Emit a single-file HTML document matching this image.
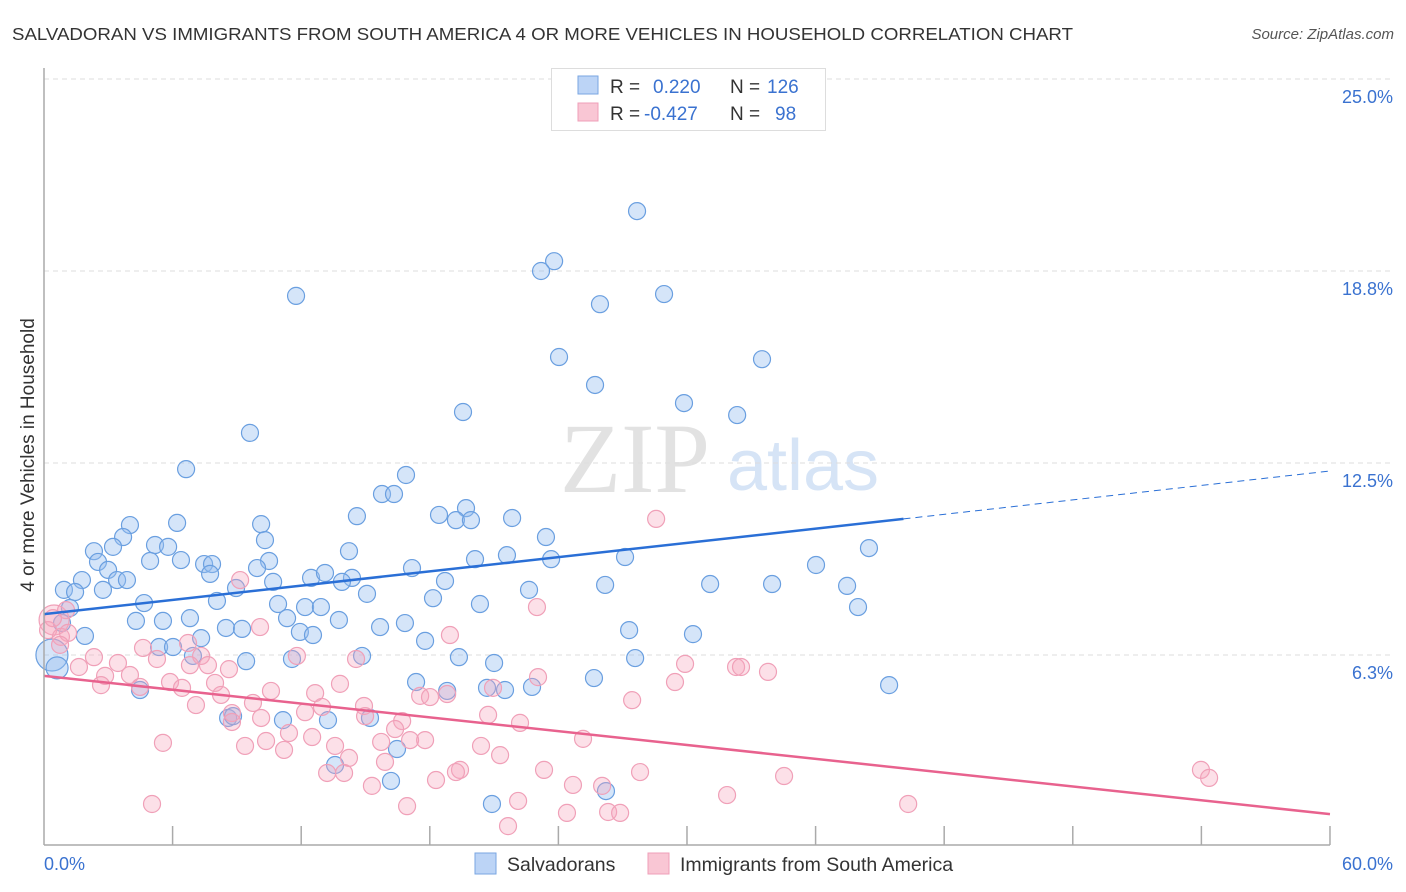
<!DOCTYPE html>
<html><head><meta charset="utf-8">
<style>
body{margin:0;background:#fff;font-family:"Liberation Sans",sans-serif;}
#wrap{position:relative;width:1406px;height:892px;overflow:hidden;}
</style></head>
<body>
<div id="wrap">
<svg id="svg" width="1406" height="892" xmlns="http://www.w3.org/2000/svg">
<text x="12" y="40" font-size="17.5" textLength="1061" lengthAdjust="spacingAndGlyphs" fill="#333">SALVADORAN VS IMMIGRANTS FROM SOUTH AMERICA 4 OR MORE VEHICLES IN HOUSEHOLD CORRELATION CHART</text>
<text x="1394" y="39" font-size="15" fill="#555" font-style="italic" text-anchor="end">Source: ZipAtlas.com</text>
<text x="635" y="492" font-size="100" fill="#e2e2e2" font-family="Liberation Serif,serif" text-anchor="middle">ZIP</text>
<text x="803" y="490" font-size="72" fill="#d6e4f6" text-anchor="middle">atlas</text>
<text transform="translate(34,455) rotate(-90)" font-size="19" fill="#333" text-anchor="middle">4 or more Vehicles in Household</text>
<g id="grid"></g><g id="pts"></g><g id="trend"></g>
<line x1="44" y1="68" x2="44" y2="845" stroke="#aaa" stroke-width="1.5"/>
<line x1="44" y1="845" x2="1330" y2="845" stroke="#aaa" stroke-width="1.5"/>
<g id="xt"></g>
<text x="44" y="870" font-size="18" fill="#3a72d0">0.0%</text>
<text x="1393" y="870" font-size="18" fill="#3a72d0" text-anchor="end">60.0%</text>
<g>
<rect x="551.5" y="68.5" width="274" height="62" fill="#fff" stroke="#ddd"/>
<rect x="578" y="76" width="20" height="18" fill="#bcd4f6" stroke="#7aa6e2"/>
<rect x="578" y="103" width="20" height="18" fill="#f9c6d4" stroke="#ef9fb8"/>
<text x="610" y="93" font-size="19" fill="#333">R = </text><text x="653" y="93" font-size="19" fill="#3a72d0">0.220</text>
<text x="730" y="93" font-size="19" fill="#333">N = </text><text x="767" y="93" font-size="19" fill="#3a72d0">126</text>
<text x="610" y="120" font-size="19" fill="#333">R = </text><text x="644" y="120" font-size="19" fill="#3a72d0">-0.427</text>
<text x="730" y="120" font-size="19" fill="#333">N = </text><text x="775" y="120" font-size="19" fill="#3a72d0">98</text>
</g>
<g>
<rect x="475" y="853" width="21" height="21" fill="#bcd4f6" stroke="#7aa6e2"/>
<text x="507" y="871" font-size="19.5" fill="#333">Salvadorans</text>
<rect x="648" y="853" width="21" height="21" fill="#f9c6d4" stroke="#ef9fb8"/>
<text x="680" y="871" font-size="19.5" fill="#333">Immigrants from South America</text>
</g>
</svg>
</div>
<script>
const yTicks=[25,18.75,12.5,6.25];
const yTickLabels=["25.0%","18.8%","12.5%","6.3%"];
const xTicks=[6,12,18,24,30,36,42,48,54,60];
const blueX=[27.67,23.80,23.19,11.76,28.93,25.94,24.03,33.50,25.71,29.86,32.34,19.55,9.61,6.63,16.89,15.77,16.33,19.69,18.43,19.22,19.92,21.84,14.60,6.21,4.01,10.13,23.42,10.31,3.69,3.22,2.33,5.18,5.79,14.23,20.11,21.60,23.66,27.11,38.49,36.02,4.95,6.39,7.47,7.84,7.75,10.50,2.52,2.99,1.77,3.41,3.87,12.46,13.11,14.37,13.90,17.17,18.71,9.94,10.69,8.96,26.18,31.08,33.97,37.47,0.93,1.45,2.75,22.63,15.07,8.07,4.67,10.92,12.18,12.92,18.15,20.34,37.98,1.21,4.29,5.55,6.81,11.34,13.76,15.68,16.84,8.49,9.24,0.84,11.94,12.55,1.91,7.33,27.30,30.28,17.78,5.37,6.02,19.36,27.58,0.37,6.95,9.43,11.57,14.84,21.00,0.61,17.36,18.81,20.67,21.51,22.77,25.66,39.43,4.48,8.59,8.82,11.15,13.25,15.21,16.47,13.58,16.19,26.22,20.90];
const blueY=[20.70,19.07,18.75,17.94,18.00,17.67,15.95,15.88,15.04,14.45,14.06,14.16,13.48,12.30,12.11,11.49,11.49,11.03,10.81,10.64,10.64,10.71,10.77,10.55,10.48,10.51,10.09,9.99,10.09,9.77,9.63,9.83,9.77,9.63,9.37,9.50,9.37,9.44,9.73,9.18,9.31,9.34,9.21,9.21,8.89,9.31,9.28,9.02,8.69,8.69,8.69,8.76,8.92,8.76,8.63,9.08,8.66,9.08,8.63,8.43,8.53,8.56,8.56,8.50,8.37,8.30,8.37,8.37,8.24,8.01,7.94,7.91,7.81,7.81,8.10,7.91,7.81,7.78,7.36,7.36,7.45,7.45,7.39,7.16,7.29,7.13,7.10,7.29,7.00,6.90,6.87,6.80,7.06,6.93,6.71,6.51,6.51,6.18,6.15,6.25,6.22,6.05,6.12,6.22,5.99,5.83,5.37,5.08,5.18,5.11,5.21,5.50,5.27,5.11,4.20,4.26,4.13,4.13,4.20,3.19,2.67,2.15,1.82,1.40];
const pinkX=[28.56,9.15,23.00,18.94,0.47,1.03,0.19,0.79,1.12,0.42,4.62,6.72,7.33,2.33,3.45,5.27,6.81,7.65,11.80,14.56,29.91,32.29,32.52,33.78,1.63,2.85,4.01,2.66,4.48,5.88,6.44,7.98,8.63,10.08,29.44,23.05,12.65,10.59,13.81,17.55,18.01,18.81,20.95,27.44,7.09,8.26,9.75,14.93,10.13,12.18,12.97,8.77,14.98,8.77,20.72,22.21,16.71,11.43,12.51,16.38,17.78,5.55,9.38,10.36,11.20,13.58,14.23,15.73,17.08,20.39,21.28,25.15,13.21,14.00,15.91,19.41,19.22,23.33,27.81,34.53,53.98,54.36,15.30,18.29,24.68,26.04,31.87,5.04,16.94,22.12,24.40,26.32,26.88,40.32,21.65,0.75];
const pinkY=[10.68,8.69,7.81,6.90,7.39,7.71,7.06,6.84,6.97,7.45,6.48,6.64,6.22,6.18,5.99,6.12,5.92,5.92,6.22,6.12,5.96,5.86,5.86,5.70,5.86,5.57,5.60,5.27,5.21,5.37,5.18,5.34,5.79,7.16,5.37,5.53,5.01,5.08,5.31,4.92,4.88,4.98,5.18,4.78,4.62,4.95,4.69,4.59,4.20,4.39,4.56,4.36,4.26,4.07,4.30,4.04,4.10,3.71,3.58,3.84,3.48,3.39,3.29,3.45,3.16,3.29,2.90,3.42,3.48,3.29,2.99,3.52,2.41,2.41,2.77,2.51,2.44,2.51,2.44,2.31,2.51,2.25,1.99,2.18,2.02,1.99,1.69,1.40,1.33,1.50,1.11,1.14,1.11,1.40,0.68,6.58];
const blueTrend=[7.58,10.68,12.24]; const blueTrendX=[0,40.1,60];
const pinkTrend=[5.57,1.07]; const pinkTrendX=[0,60];
const NS="http://www.w3.org/2000/svg";
const sx=v=>44+v*21.433, sy=v=>847-v*30.72;
function mk(tag,attrs,parent){const e=document.createElementNS(NS,tag);for(const k in attrs)e.setAttribute(k,attrs[k]);parent.appendChild(e);return e;}
const grid=document.getElementById('grid');
yTicks.forEach((t,i)=>{
 const l=mk('line',{x1:44,x2:1394,y1:sy(t),y2:sy(t),stroke:'#ddd','stroke-dasharray':'5,4'},grid);
 
 
 const tx=mk('text',{x:1393,y:sy(t)+24,'font-size':18,fill:'#3a72d0','text-anchor':'end'},grid);
 tx.textContent=yTickLabels[i];
 
 
});
const xt=document.getElementById('xt');
xTicks.forEach(t=>{
 const l=mk('line',{x1:sx(t),x2:sx(t),y1:826,y2:845,stroke:'#aaa','stroke-width':1.5},xt);
 
 
});
const pts=document.getElementById('pts');
blueX.forEach((x,i)=>{
 const r=(i===99)?16:(i===105?11:8.5);
 const c=mk('circle',{cx:sx(x),cy:sy(blueY[i]),r:r,fill:'rgba(150,190,240,0.4)',stroke:'#6a9fe0','stroke-width':1.2},pts);
 
 
});
pinkX.forEach((x,i)=>{
 const r=(i===4)?15:8.5;
 const c=mk('circle',{cx:sx(x),cy:sy(pinkY[i]),r:r,fill:'rgba(245,165,190,0.35)',stroke:'#f0a0b8','stroke-width':1.2},pts);
 
 
});
const tr=document.getElementById('trend');
const b1=mk('line',{x1:sx(blueTrendX[0]),y1:sy(blueTrend[0]),x2:sx(blueTrendX[1]),y2:sy(blueTrend[1]),stroke:'#2a6fd6','stroke-width':2.5},tr);


const b2=mk('line',{x1:sx(blueTrendX[1]),y1:sy(blueTrend[1]),x2:sx(blueTrendX[2]),y2:sy(blueTrend[2]),stroke:'#2a6fd6','stroke-width':1,'stroke-dasharray':'7,5'},tr);


const p1=mk('line',{x1:sx(pinkTrendX[0]),y1:sy(pinkTrend[0]),x2:sx(pinkTrendX[1]),y2:sy(pinkTrend[1]),stroke:'#e8628e','stroke-width':2.5},tr);


</script>
</body></html>
